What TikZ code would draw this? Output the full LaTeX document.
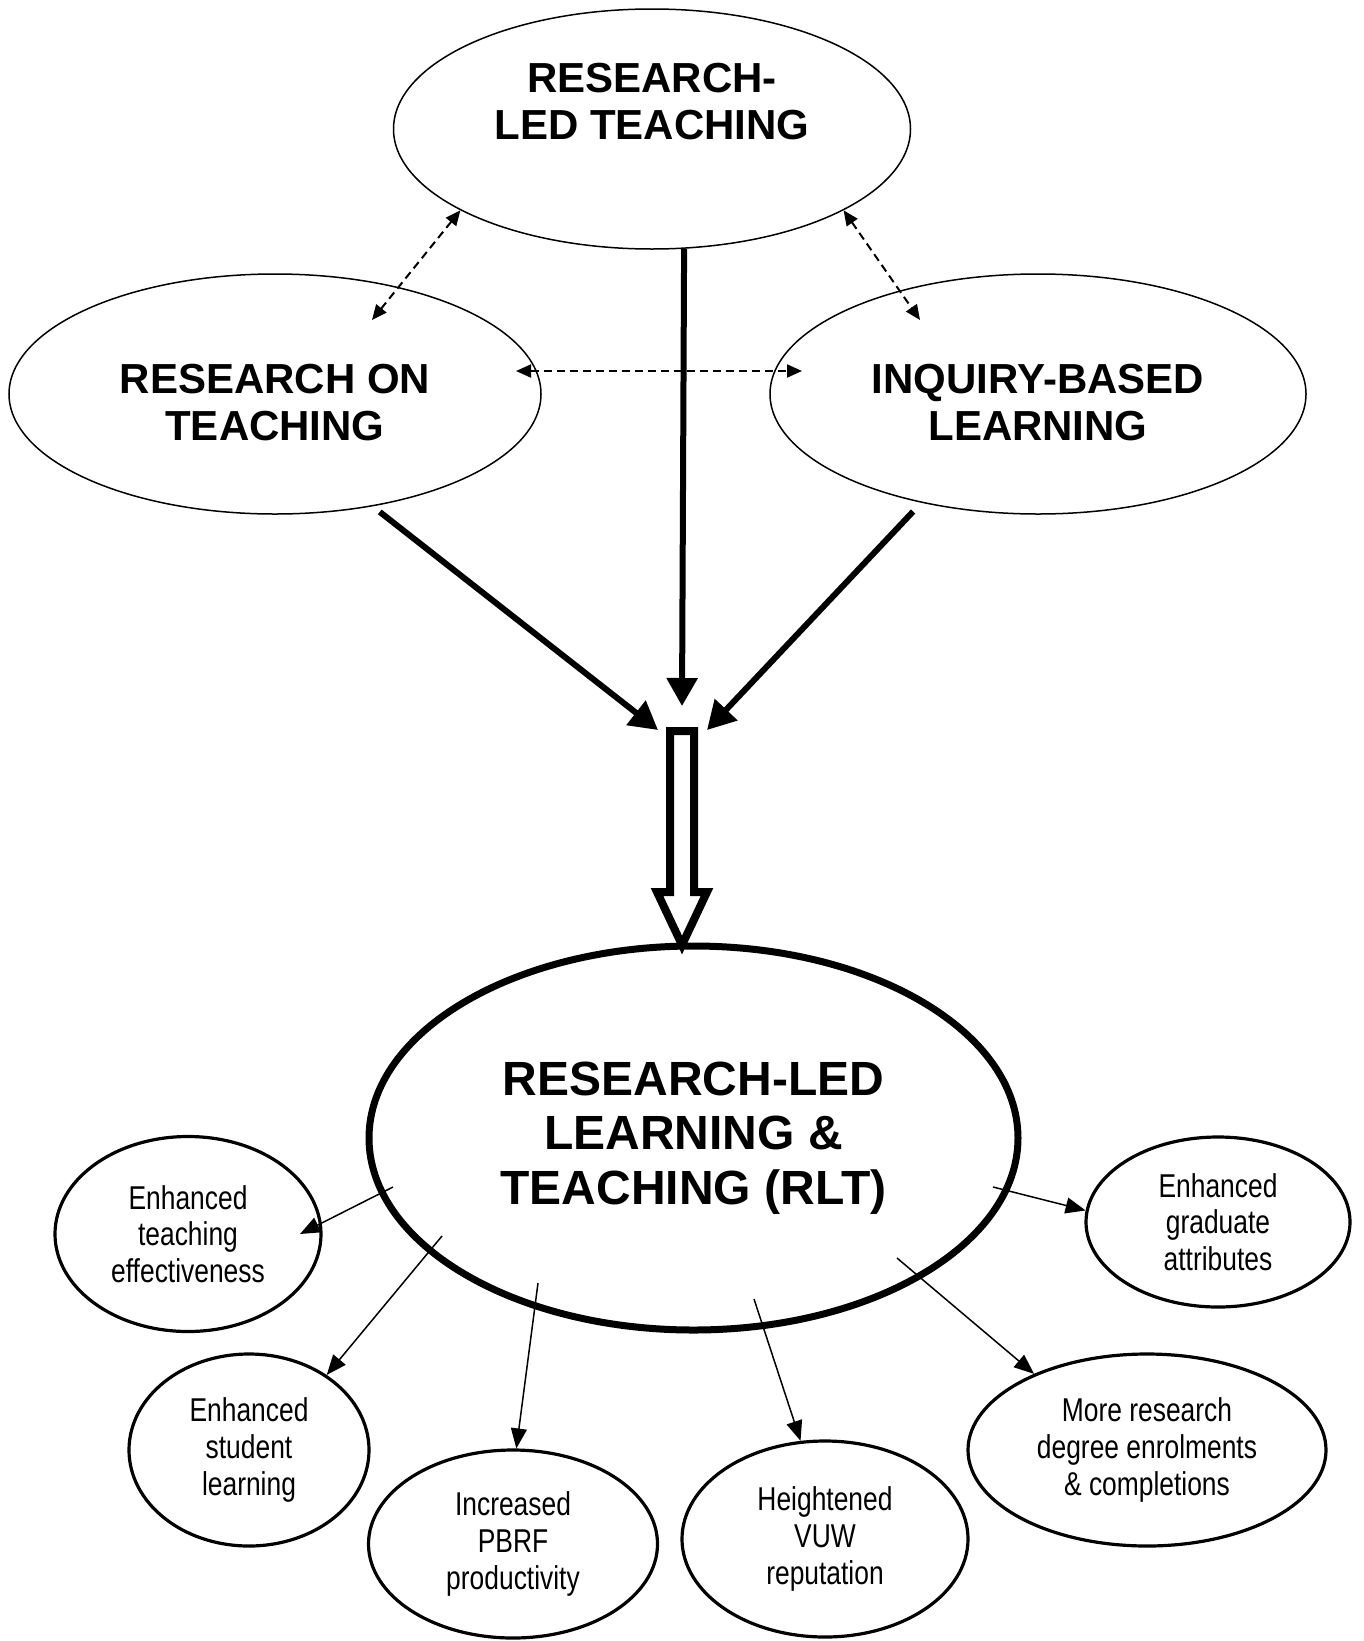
\documentclass[tikz,border=0pt]{standalone}
\usepackage{fontspec}
\setmainfont{Liberation Sans}
\newfontfamily\narrowfont{Liberation Sans}[FakeStretch=0.8]
\usetikzlibrary{shapes.geometric,arrows.meta}

\begin{document}
\begin{tikzpicture}[x=1pt,y=-1pt,
  oval/.style={ellipse,draw,line width=1.5pt,inner sep=0pt},
  head/.style={align=center,inner sep=0pt,font=\bfseries\fontsize{42}{47}\selectfont},
  outcome/.style={ellipse,draw,line width=3.2pt,inner sep=0pt,align=center,
    font=\narrowfont\fontsize{33}{36.6}\selectfont},
  dashlink/.style={line width=2pt,dash pattern=on 8pt off 5pt,
    {Triangle[length=15pt,width=13pt]}-{Triangle[length=15pt,width=13pt]}},
  feed/.style={line width=6pt,-{Triangle[length=28pt,width=30pt]}},
  effect/.style={line width=1.5pt,-{Triangle[length=20pt,width=16pt]}},
  hollow/.style={line width=8pt,line join=miter,fill=white}]

\fill[white] (0,0) rectangle (1364,1641);
\useasboundingbox (0,0) rectangle (1364,1641);

\node[oval,minimum width=517pt,minimum height=240pt] (rlt) at (652,129) {};
\node[head] (rlt-t) at (652,102) {RESEARCH-\\LED TEACHING};

\node[oval,minimum width=532pt,minimum height=240pt] (rot) at (275,394) {};
\node[head] (rot-t) at (275,403) {RESEARCH ON\\TEACHING};
\node[oval,minimum width=536pt,minimum height=240pt] (ibl) at (1038,394) {};
\node[head] (ibl-t) at (1038,403) {INQUIRY-BASED\\LEARNING};

\node[ellipse,draw,line width=7pt,inner sep=0pt,minimum width=649pt,minimum height=384pt,
  align=center,font=\bfseries\fontsize{48}{54.5}\selectfont] (rllt) at (693.5,1138)
  {RESEARCH-LED\\LEARNING \&\\TEACHING (RLT)};

\node[outcome,minimum width=266pt,minimum height=195pt] (ete) at (188,1234) {Enhanced\\teaching\\effectiveness};
\node[outcome,minimum width=240pt,minimum height=192pt] (esl) at (249,1450) {Enhanced\\student\\learning};
\node[outcome,minimum width=289pt,minimum height=188pt] (pbrf) at (513,1544) {Increased\\PBRF\\productivity};
\node[outcome,minimum width=286pt,minimum height=196pt] (vuw) at (825,1539) {Heightened\\VUW\\reputation};
\node[outcome,minimum width=358pt,minimum height=192pt] (mrd) at (1147,1450) {More research\\degree enrolments\\\& completions};
\node[outcome,minimum width=264pt,minimum height=170pt] (ega) at (1218,1222) {Enhanced\\graduate\\attributes};

\coordinate (rot-in) at (372,320);
\coordinate (ibl-in) at (920,320);
\coordinate (rot-side) at (516,371);
\coordinate (ibl-side) at (802,371);
\coordinate (hub-top) at (682,706);
\coordinate (hub-left) at (658,730);
\coordinate (hub-right) at (707,730);
\coordinate (hub) at (682,731);

\coordinate (s-ete) at (393,1187);
\coordinate (t-ete) at (300,1234);
\coordinate (s-esl) at (442,1236);
\coordinate (s-pbrf) at (538,1283);
\coordinate (s-vuw) at (754,1299);
\coordinate (s-mrd) at (897,1258);
\coordinate (s-ega) at (993,1187);

\draw[dashlink] (rlt.-157.6) -- (rot-in);
\draw[dashlink] (rlt.-23.5) -- (ibl-in);
\draw[dashlink] (rot-side) -- (ibl-side);

\draw[feed] (rlt.-75.6) -- (hub-top);
\draw[feed,shorten <=9pt] (rot.-49) -- (hub-left);
\draw[feed,shorten <=12pt] (ibl.-137) -- (hub-right);

\draw[hollow] (hub) ++(-12,0) -- ++(24,0) -- ++(0,161) -- ++(13,0) -- ++(-25,53)
  -- ++(-25,-53) -- ++(13,0) -- cycle;

\draw[effect] (s-ete) -- (t-ete);
\draw[effect] (s-esl) -- (esl.44.5);
\draw[effect] (s-pbrf) -- (pbrf.88);
\draw[effect] (s-vuw) -- (vuw.104);
\draw[effect] (s-mrd) -- (mrd.146);
\draw[effect] (s-ega) -- (ega.175);
\end{tikzpicture}
\end{document}
